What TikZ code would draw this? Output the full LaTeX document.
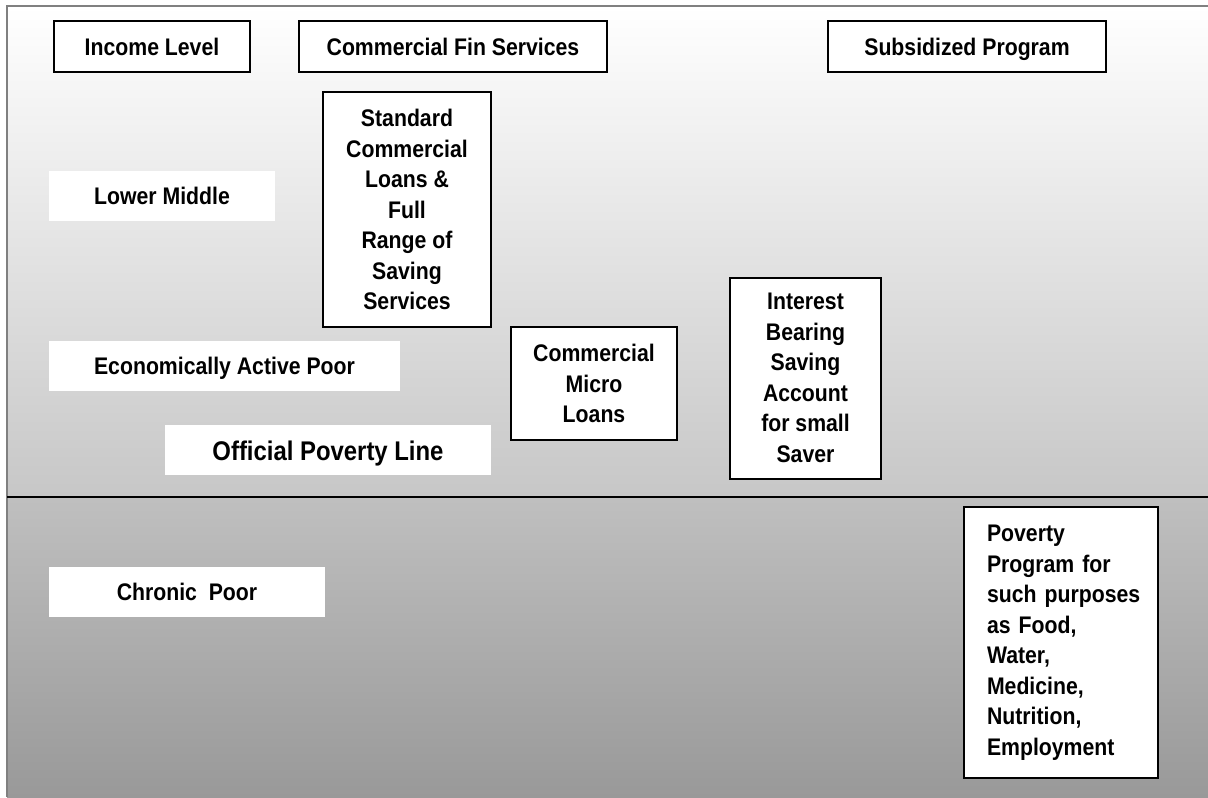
\documentclass[tikz,border=0pt]{standalone}
\usepackage{fontspec}
\newfontfamily\chartfont{Liberation Sans}[FakeStretch=0.885]
\usetikzlibrary{positioning}
\definecolor{framegray}{gray}{0.5}
\definecolor{upmid}{gray}{0.945}
\definecolor{uplow}{gray}{0.78}
\definecolor{lowtop}{gray}{0.75}
\definecolor{lowlow}{gray}{0.6}

\begin{document}
\begin{tikzpicture}[x=0.5pt, y=-0.5pt,
		every node/.style={font=\chartfont\bfseries\fontsize{12}{15.25}\selectfont, inner sep=0pt, align=center},
		framed/.style={draw, line width=1pt, fill=white},
		oneline/.style={text height=8.6pt, text depth=0pt},
		plain/.style={fill=white, oneline, minimum height=25pt}]
		\useasboundingbox (0,0) rectangle (1208,797);
		% background bands above and below the poverty line
		\shade[top color=white, middle color=upmid, bottom color=uplow] (7,6) rectangle (1208,497);
		\shade[top color=lowtop, bottom color=lowlow] (7,497) rectangle (1208,797);
		\draw[framegray, line width=1pt] (7,797) -- (7,6) -- (1208,6);
		\draw[line width=1pt] (7,497) -- (1208,497);
		% headers
		\node[framed, oneline, minimum width=98pt, minimum height=25.5pt] (income) at (152,46.5) {Income Level};
		\node[framed, oneline, minimum width=154pt, minimum height=25.5pt] (commfin) at (453,46.5) {Commercial Fin Services};
		\node[framed, oneline, minimum width=139pt, minimum height=25.5pt] (subsid) at (967,46.5) {Subsidized Program};
		% income levels
		\node[plain, minimum width=113pt] (lowmid) at (162,196) {Lower Middle};
		\node[plain, minimum width=175.5pt] (activepoor) at (224.5,366) {Economically Active Poor};
		\node[plain, minimum width=163pt, text height=10pt, font=\chartfont\bfseries\fontsize{13.5}{16}\selectfont] (povline) at (328,450) {Official Poverty Line};
		\node[plain, minimum width=138pt] (chronic) at (187,592) {Chronic\ \ Poor};
		% services
		\node[framed, minimum width=84pt, minimum height=117.5pt] (standard) at (407,209.5) {Standard\\Commercial\\Loans \&\\Full\\Range of\\Saving\\Services};
		\node[framed, minimum width=83pt, minimum height=56.5pt] (micro) at (594,383.5) {Commercial\\Micro\\Loans};
		\node[framed, minimum width=75.5pt, minimum height=100.5pt] (saving) at (805.5,378) {Interest\\Bearing\\Saving\\Account\\for small\\Saver};
		\node[framed, align=left, text width=74pt, inner xsep=11.5pt, minimum height=135.5pt] (povprog) at (1061,642.5) {Poverty\\\mbox{Program for}\\\mbox{such purposes}\\\mbox{as Food,}\\Water,\\Medicine,\\Nutrition,\\Employment};
	\end{tikzpicture}
\end{document}
